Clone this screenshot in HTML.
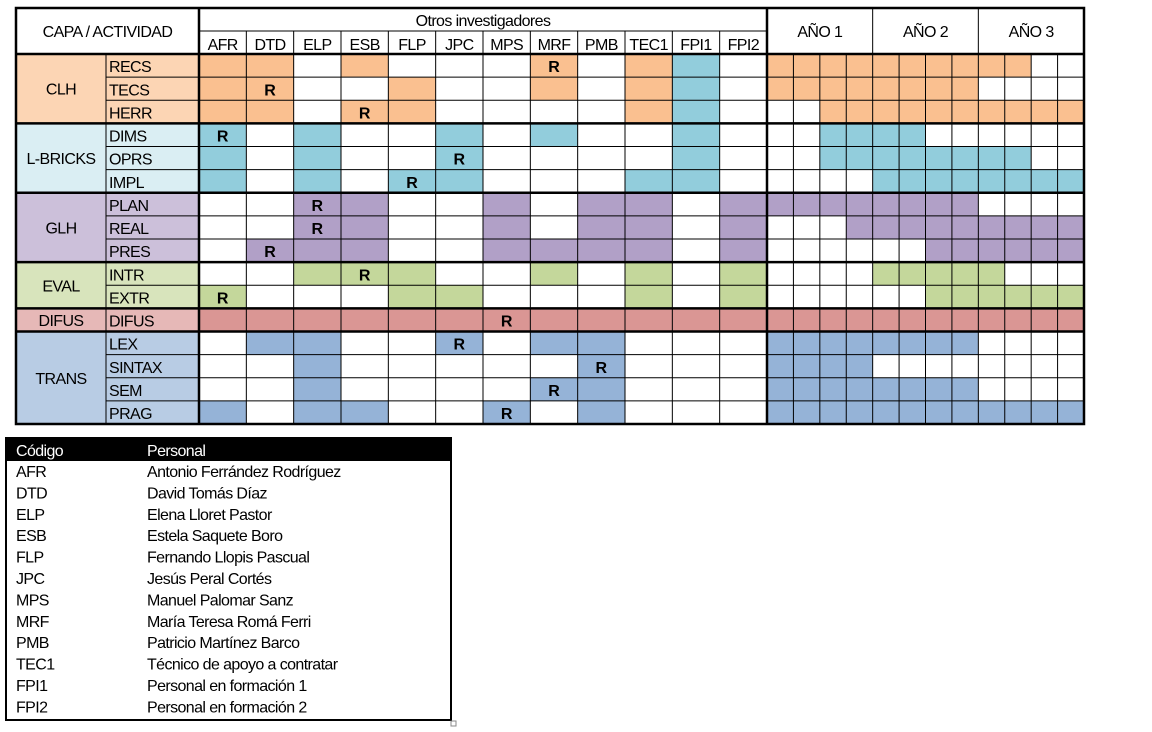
<!DOCTYPE html>
<html><head><meta charset="utf-8"><style>
html,body{margin:0;padding:0;background:#fff;width:1152px;height:732px;overflow:hidden}
svg{display:block}
text{font-family:"Liberation Sans",Arial,sans-serif}
</style></head><body>
<svg id="chart" width="1152" height="732" viewBox="0 0 1152 732"></svg>
<script>
const investigators=["AFR","DTD","ELP","ESB","FLP","JPC","MPS","MRF","PMB","TEC1","FPI1","FPI2"];
const years=["AÑO 1","AÑO 2","AÑO 3"];
const layers=[["CLH",3,"#fcd5b4","#fac090"],["L-BRICKS",3,"#daeef3","#92cddc"],["GLH",3,"#ccc0da","#b1a0c7"],["EVAL",2,"#d8e4bc","#c4d79b"],["DIFUS",1,"#e6b8b7","#da9694"],["TRANS",4,"#b8cce4","#95b3d7"]];
const activities=["RECS","TECS","HERR","DIMS","OPRS","IMPL","PLAN","REAL","PRES","INTR","EXTR","DIFUS","LEX","SINTAX","SEM","PRAG"];
const invFill=["110100010110","110010010110","110110000110","101001010010","101001000010","101011000110","001100101101","001100101101","011100111101","001110010101","100011000101","111111111111","011001011000","001000001000","001000011000","101100101000"];
const respIdx=[7,1,3,0,5,4,2,2,1,3,0,6,5,8,7,6];
const tealFPI=[1,1,1];
const monthStart=[1,1,3,3,3,5,1,4,7,5,7,1,1,1,1,1];
const monthEnd=[10,8,12,6,10,12,8,12,12,9,12,12,8,4,8,12];
const codes=["AFR","DTD","ELP","ESB","FLP","JPC","MPS","MRF","PMB","TEC1","FPI1","FPI2"];
const names=["Antonio Ferrández Rodríguez","David Tomás Díaz","Elena Lloret Pastor","Estela Saquete Boro","Fernando Llopis Pascual","Jesús Peral Cortés","Manuel Palomar Sanz","María Teresa Romá Ferri","Patricio Martínez Barco","Técnico de apoyo a contratar","Personal en formación 1","Personal en formación 2"];

const svg=document.getElementById('chart');
const NS="http://www.w3.org/2000/svg";
function el(t,a,p){const e=document.createElementNS(NS,t);for(const k in a)e.setAttribute(k,a[k]);(p||svg).appendChild(e);return e;}
const X0=16,XA=106,XI=199,XM=767,XE=1084,Y0=8,YH=31,YD=54,YE=424;
const iw=(XM-XI)/12, mw=(XE-XM)/12, rh=(YE-YD)/16;
const ix=i=>XI+i*iw, mx=m=>XM+(m-1)*mw, ry=r=>YD+r*rh;
function txt(s,x,y,o){const t=el('text',Object.assign({x:x,y:y,'font-size':16,'text-anchor':'middle','fill':'#000','letter-spacing':'-0.6'},o||{}));t.textContent=s;return t;}

// row -> layer mapping
const rowLayer=[];layers.forEach((l,li)=>{for(let k=0;k<l[1];k++)rowLayer.push(li);});
// layer cells
let r0=0;
layers.forEach((l,li)=>{
  const g=el('rect',{x:X0,y:ry(r0),width:XA-X0,height:l[1]*rh,fill:l[2]});
  
  
  const t=txt(l[0],(X0+XA)/2,ry(r0)+l[1]*rh/2+6);
  
  
  r0+=l[1];
});
activities.forEach((a,r)=>{
  const L=layers[rowLayer[r]];
  const c=el('rect',{x:XA,y:ry(r),width:XI-XA,height:rh,fill:L[2]});
  
  
  const t=txt(a,XA+3,ry(r)+rh-5,{'text-anchor':'start'});
  
  
  for(let i=0;i<12;i++){
    if(invFill[r][i]==='1'){
      let col=L[3]; if(i===10 && r<3) col="#92cddc";
      const b=el('rect',{x:ix(i),y:ry(r),width:iw,height:rh,fill:col});
      
      
    }
  }
  const rt=txt('R',ix(respIdx[r])+iw/2,ry(r)+rh-5,{'font-weight':'bold','letter-spacing':'0'});
  
  
  for(let m=monthStart[r];m<=monthEnd[r];m++){
    const b=el('rect',{x:mx(m),y:ry(r),width:mw,height:rh,fill:L[3]});
    
    
  }
});
// grid lines
function line(x1,y1,x2,y2,w){el('line',{x1:x1,y1:y1,x2:x2,y2:y2,stroke:'#000','stroke-width':w||1});}
for(let r=1;r<16;r++){line(XA,ry(r),XE,ry(r));}
for(let i=1;i<12;i++){line(ix(i),YH,ix(i),YE);}
for(let m=2;m<=12;m++){line(mx(m),YD,mx(m),YE);}
line(XA,YD,XA,YE);
line(XI,YH,XM,YH);
line(mx(5),Y0,mx(5),YD);line(mx(9),Y0,mx(9),YD);
let acc=0;layers.forEach(l=>{acc+=l[1];if(acc<16)line(X0,ry(acc),XE,ry(acc),2.5);});
line(X0,YD,XE,YD,2.5);line(XI,Y0,XI,YE,2.5);line(XM,Y0,XM,YE,2.5);
el('rect',{x:X0,y:Y0,width:XE-X0,height:YE-Y0,fill:'none',stroke:'#000','stroke-width':2.5});
// header text
let h=txt('CAPA / ACTIVIDAD',(X0+XI)/2,37);
h=txt('Otros investigadores',(XI+XM)/2,26);
investigators.forEach((s,i)=>{const t=txt(s,ix(i)+iw/2,50);});
years.forEach((s,i)=>{const t=txt(s,mx(1+i*4)+2*mw,37);});
// legend
const LX=6,LY=438,LW=445,LH=282,hh=23,lr=21.4;
let lg=el('rect',{x:LX,y:LY,width:LW,height:hh,fill:'#000'});
txt('Código',16,LY+18,{'text-anchor':'start',fill:'#fff'});
txt('Personal',147,LY+18,{'text-anchor':'start',fill:'#fff'});
codes.forEach((c,i)=>{
  const y=LY+hh+i*lr+16;
  const a=txt(c,16,y,{'text-anchor':'start'});
  const b=txt(names[i],147,y,{'text-anchor':'start'});
});
lg=el('rect',{x:LX,y:LY,width:LW,height:LH,fill:'none',stroke:'#000','stroke-width':2});
el('rect',{x:451,y:721,width:5,height:5,fill:'#fff',stroke:'#888','stroke-width':1});
</script>
</body></html>
